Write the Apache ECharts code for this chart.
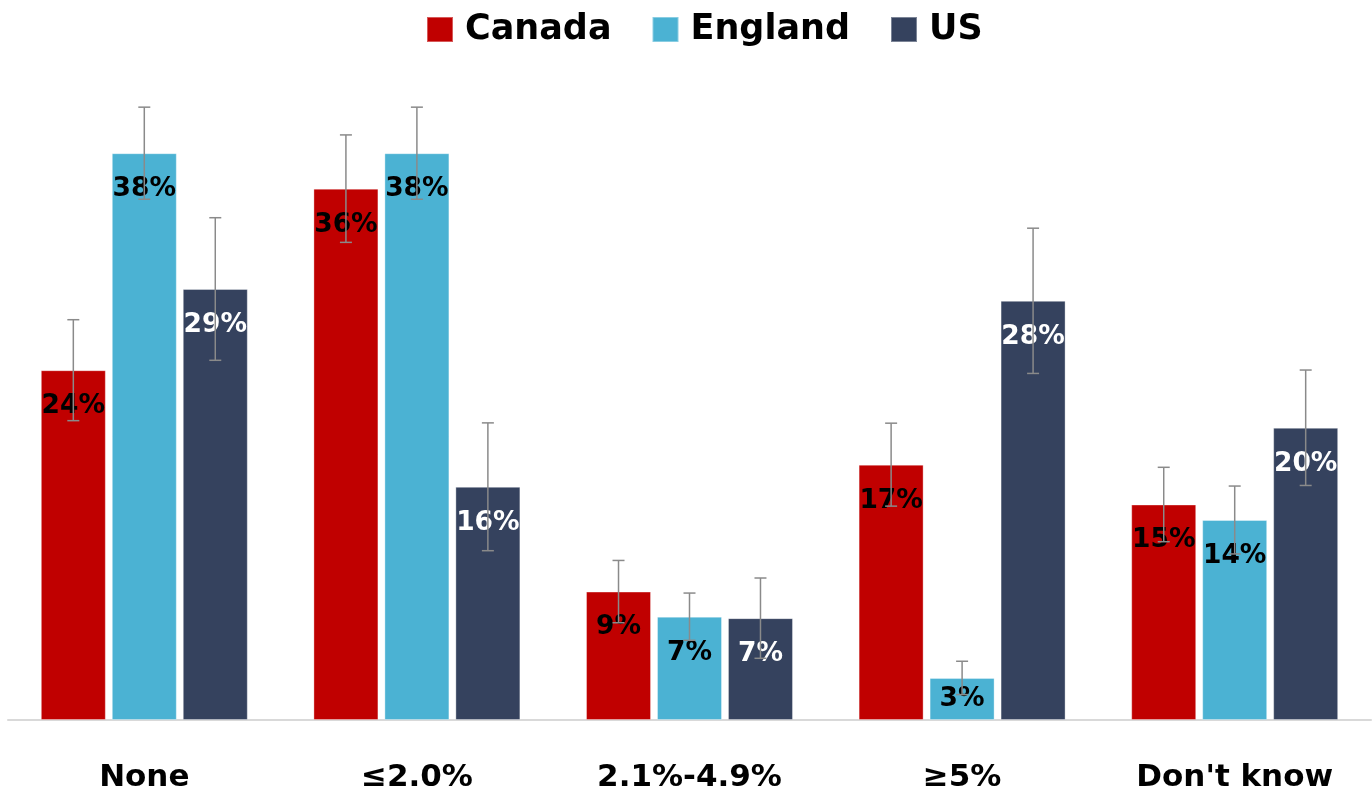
<!DOCTYPE html>
<html>
<head>
<meta charset="utf-8">
<script src="https://cdn.jsdelivr.net/npm/echarts@6/dist/echarts.min.js"></script>
<style>
  html, body { margin: 0; padding: 0; background: #fff; }
  #chart { width: 1372px; height: 796px; }
</style>
</head>
<body>
<div id="chart"></div>
<script>
// ---- data ----
const categories = ['None', '≤2.0%', '2.1%-4.9%', '≥5%', "Don't know"];
const seriesNames = ['Canada', 'England', 'US'];
const canada  = [23.7, 36.0, 8.7, 17.3, 14.6];
const england = [38.4, 38.4, 7.0, 2.85, 13.55];
const us      = [29.2, 15.8, 6.9, 28.4, 19.8];
const canadaErr  = [3.42, 3.64, 2.11, 2.81, 2.52];
const englandErr = [3.12, 3.12, 1.60, 1.13, 2.30];
const usErr      = [4.83, 4.33, 2.72, 4.92, 3.91];

const colors = ['#C00000', '#4BB2D3', '#35425E'];
const labelColors = ['#000000', '#000000', '#FFFFFF'];
const FONT = '"DejaVu Sans"';
const BAR_W = 65;
const BAR_GAP = '9.2%';

const values = [canada, england, us];
const errs = [canadaErr, englandErr, usErr];

const chart = echarts.init(document.getElementById('chart'), null, { renderer: 'canvas' });

function barData(vals) {
  return vals.map(v => ({
    value: v,
    label: v < 5 ? { position: 'inside' } : { position: ['50%', 36] }
  }));
}

const barSeries = seriesNames.map((name, si) => ({
  name: name,
  type: 'bar',
  barWidth: BAR_W,
  barGap: BAR_GAP,
  z: 2,
  itemStyle: { color: colors[si], borderColor: 'rgba(255,255,255,0.35)', borderWidth: 1 },
  label: {
    show: true,
    align: 'center',
    verticalAlign: 'middle',
    color: labelColors[si],
    fontFamily: FONT,
    fontWeight: 'bold',
    fontSize: 26.5,
    formatter: p => Math.round(p.value) + '%'
  },
  data: barData(values[si])
}));

const errSeries = seriesNames.map((name, si) => ({
  name: name + ' error',
  type: 'custom',
  z: 10,
  silent: true,
  renderItem: function (params, api) {
    const cat = api.value(0);
    const v = api.value(1);
    const e = api.value(2);
    let offset = (si - 1) * (BAR_W + BAR_W * 0.092);
    if (api.barLayout) {
      const lay = api.barLayout({ count: 3, barWidth: BAR_W, barGap: BAR_GAP });
      if (lay && lay[si]) offset = lay[si].offsetCenter;
    }
    const c = api.coord([cat, v]);
    const x = c[0] + offset;
    const yTop = api.coord([cat, v + e])[1];
    const yBot = api.coord([cat, v - e])[1];
    const cap = 6;
    const st = { stroke: '#8A8A8A', lineWidth: 1.5 };
    return {
      type: 'group',
      children: [
        { type: 'line', shape: { x1: x, y1: yTop, x2: x, y2: yBot }, style: st },
        { type: 'line', shape: { x1: x - cap, y1: yTop, x2: x + cap, y2: yTop }, style: st },
        { type: 'line', shape: { x1: x - cap, y1: yBot, x2: x + cap, y2: yBot }, style: st }
      ]
    };
  },
  data: values[si].map((v, i) => [i, v, errs[si][i]])
}));

chart.setOption({
  animation: false,
  color: colors,
  legend: {
    data: seriesNames,
    top: 7,
    left: 421,
    icon: 'rect',
    itemWidth: 26,
    itemHeight: 25,
    itemGap: 40,
    textStyle: {
      fontFamily: FONT,
      fontWeight: 'bold',
      fontSize: 35,
      color: '#000',
      padding: [0, 0, 0, 7]
    }
  },
  grid: {
    left: 8,
    right: 1,
    top: 55.8,
    bottom: 76,
    containLabel: false
  },
  xAxis: {
    type: 'category',
    data: categories,
    axisLine: { show: true, lineStyle: { color: '#D9D9D9', width: 2 } },
    axisTick: { show: false },
    axisLabel: {
      margin: 42,
      fontFamily: FONT,
      fontWeight: 'bold',
      fontSize: 31,
      color: '#000',
      interval: 0
    }
  },
  yAxis: {
    type: 'value',
    min: 0,
    max: 45,
    show: false,
    splitLine: { show: false }
  },
  series: barSeries.concat(errSeries)
});
</script>
</body>
</html>
